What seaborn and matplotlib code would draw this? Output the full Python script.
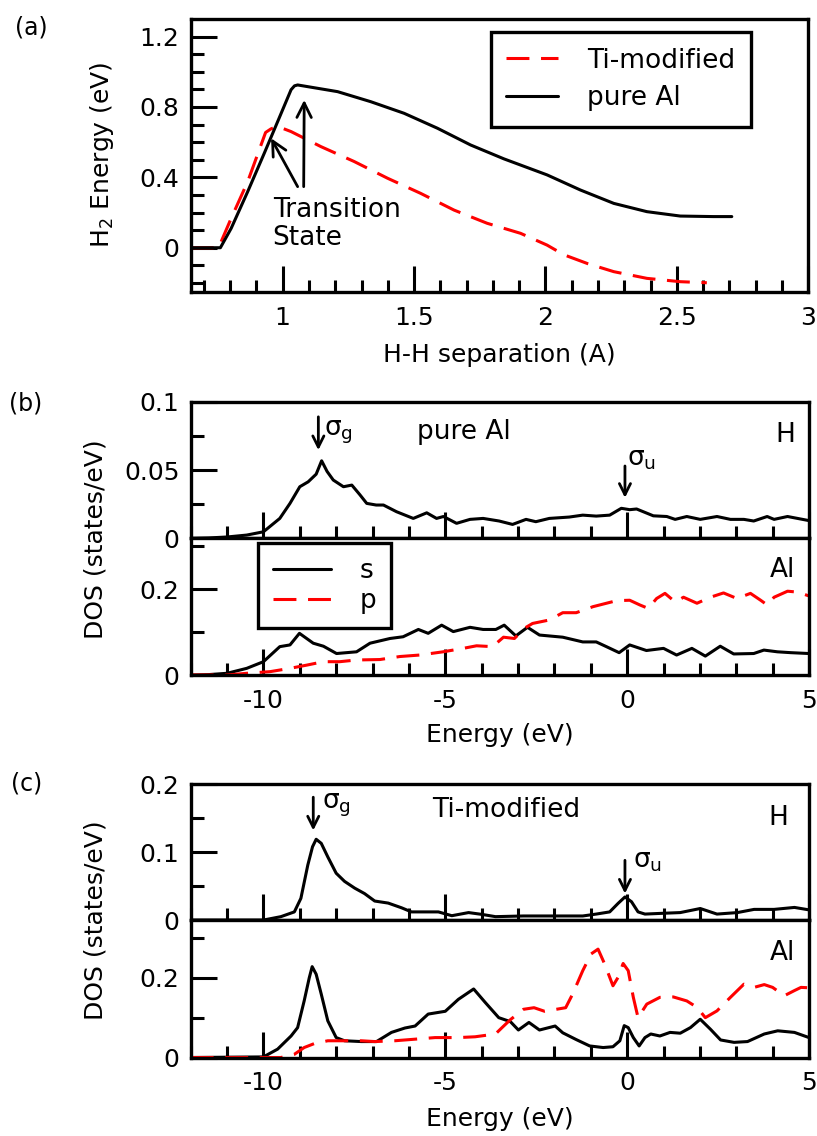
import matplotlib
matplotlib.use("Agg")
import seaborn as sns
import matplotlib.pyplot as plt
from matplotlib.ticker import MultipleLocator, FixedLocator, FuncFormatter

# (a) H2 energy vs H-H separation
sep_ti = [0.65, 0.756, 0.804, 0.867, 0.935, 0.955, 0.98, 1.032, 1.145, 1.272, 1.399, 1.525,
          1.652, 1.778, 1.905, 2.006, 2.07, 2.16, 2.26, 2.386, 2.513, 2.614]
e_ti = [0, 0, 0.167, 0.376, 0.655, 0.675, 0.69, 0.66, 0.575, 0.49, 0.395, 0.309,
        0.214, 0.139, 0.082, 0.015, -0.04, -0.09, -0.136, -0.174, -0.193, -0.199]
sep_al = [0.65, 0.763, 0.804, 0.867, 0.93, 0.981, 1.032, 1.045, 1.057, 1.209, 1.335, 1.462,
          1.589, 1.715, 1.842, 2.006, 2.133, 2.26, 2.386, 2.513, 2.639, 2.709]
e_al = [0, 0, 0.11, 0.319, 0.537, 0.717, 0.898, 0.92, 0.925, 0.887, 0.83, 0.764,
        0.679, 0.584, 0.505, 0.414, 0.328, 0.252, 0.205, 0.18, 0.177, 0.177]

# (b) pure Al DOS
eb_h = [-12, -11.5, -11, -10.46, -10, -9.55, -9.27, -9.0, -8.77, -8.55, -8.4, -8.25, -8.08, -7.8,
        -7.57, -7.35, -7.16, -6.9, -6.7, -6.34, -5.88, -5.51, -5.24, -5.05, -4.69, -4.32, -3.96,
        -3.52, -3.15, -2.78, -2.51, -2.14, -1.59, -1.22, -0.85, -0.48, -0.16, 0.07, 0.26, 0.72,
        1.09, 1.32, 1.64, 2.01, 2.47, 2.84, 3.21, 3.48, 3.85, 4.04, 4.41, 5.0]
dos_b_h = [0, 0.0003, 0.001, 0.0024, 0.0048, 0.0146, 0.0256, 0.0378, 0.0414, 0.047, 0.0568, 0.049,
           0.0427, 0.0378, 0.039, 0.032, 0.0256, 0.0244, 0.0244, 0.0195, 0.0146, 0.0187, 0.0146,
           0.016, 0.011, 0.0139, 0.0146, 0.0127, 0.0102, 0.0139, 0.0122, 0.0146, 0.0156, 0.017,
           0.0163, 0.017, 0.022, 0.021, 0.0215, 0.0165, 0.016, 0.0139, 0.016, 0.0139, 0.016,
           0.0139, 0.0139, 0.0127, 0.016, 0.0139, 0.016, 0.013]
eb_s = [-12, -11.5, -11, -10.46, -10.0, -9.55, -9.27, -9.01, -8.63, -8.35, -7.99, -7.44, -7.07,
        -6.52, -6.16, -5.74, -5.47, -5.10, -4.78, -4.32, -3.96, -3.61, -3.38, -3.06, -2.74, -2.41,
        -1.77, -1.22, -0.85, -0.57, -0.22, 0.07, 0.53, 1.0, 1.36, 1.78, 2.15, 2.56, 2.93, 3.48,
        3.76, 4.13, 4.5, 5.0]
dos_b_s = [0, 0.001, 0.004, 0.0155, 0.031, 0.066, 0.070, 0.097, 0.074, 0.067, 0.050, 0.054, 0.074,
           0.085, 0.089, 0.106, 0.097, 0.116, 0.101, 0.111, 0.106, 0.106, 0.116, 0.091, 0.111,
           0.093, 0.088, 0.077, 0.077, 0.066, 0.052, 0.070, 0.057, 0.062, 0.0465, 0.062, 0.044,
           0.067, 0.049, 0.050, 0.058, 0.054, 0.052, 0.050]
eb_p = [-12, -11, -10.46, -9.82, -9.27, -8.81, -8.35, -7.9, -7.44, -6.8, -6.25, -5.70, -5.06,
        -4.51, -4.14, -3.7, -3.4, -3.1, -2.8, -2.6, -2.14, -1.77, -1.4, -0.94, -0.29, 0.07, 0.35,
        0.58, 0.81, 1.04, 1.32, 1.55, 1.92, 2.29, 2.65, 3.02, 3.39, 3.67, 3.85, 4.04, 4.41, 4.68, 5.0]
dos_b_p = [0, 0, 0.004, 0.0078, 0.0155, 0.023, 0.031, 0.031, 0.035, 0.036, 0.043, 0.0465, 0.054,
           0.062, 0.068, 0.066, 0.088, 0.085, 0.11, 0.12, 0.128, 0.145, 0.145, 0.159, 0.173, 0.174,
           0.163, 0.155, 0.178, 0.19, 0.17, 0.181, 0.167, 0.181, 0.191, 0.178, 0.19, 0.174, 0.163,
           0.181, 0.195, 0.193, 0.184]

# (c) Ti-modified DOS
ec_h = [-12, -10, -9.52, -9.15, -8.97, -8.78, -8.65, -8.55, -8.41, -8.23, -8.0, -7.77, -7.49,
        -7.22, -6.94, -6.57, -6.2, -5.93, -5.47, -5.19, -4.82, -4.36, -3.99, -3.62, -2.85, -1.98,
        -1.22, -0.85, -0.48, -0.25, -0.06, 0.12, 0.30, 0.49, 1.0, 1.46, 2.01, 2.47, 3.03, 3.49,
        4.04, 4.6, 5.0]
dos_c_h = [0, 0, 0.005, 0.012, 0.032, 0.081, 0.108, 0.119, 0.113, 0.093, 0.069, 0.057, 0.047,
           0.039, 0.028, 0.025, 0.018, 0.012, 0.012, 0.012, 0.0064, 0.011, 0.0083, 0.005, 0.006,
           0.006, 0.006, 0.0088, 0.012, 0.0245, 0.034, 0.027, 0.012, 0.0088, 0.010, 0.011, 0.017,
           0.0088, 0.011, 0.0157, 0.0157, 0.0186, 0.015]
ec_s = [-12, -10, -9.61, -9.24, -9.06, -8.88, -8.74, -8.66, -8.55, -8.41, -8.23, -8.0, -7.77,
        -7.31, -6.89, -6.48, -6.11, -5.83, -5.47, -5.0, -4.64, -4.22, -3.9, -3.53, -3.21, -2.99,
        -2.7, -2.41, -1.98, -1.77, -1.40, -1.03, -0.66, -0.39, -0.2, -0.08, 0.03, 0.17, 0.33,
        0.49, 0.65, 0.9, 1.18, 1.46, 1.74, 2.01, 2.29, 2.57, 2.94, 3.31, 3.77, 4.14, 4.6, 5.0]
dos_c_s = [0, 0.0015, 0.021, 0.054, 0.075, 0.142, 0.2, 0.228, 0.209, 0.159, 0.092, 0.05, 0.042,
           0.040, 0.040, 0.063, 0.074, 0.079, 0.109, 0.116, 0.146, 0.172, 0.138, 0.10, 0.09,
           0.069, 0.088, 0.069, 0.079, 0.062, 0.045, 0.029, 0.025, 0.027, 0.042, 0.080, 0.075,
           0.05, 0.029, 0.05, 0.059, 0.054, 0.063, 0.061, 0.075, 0.096, 0.071, 0.044, 0.038,
           0.040, 0.059, 0.067, 0.063, 0.05]
ec_p = [-12, -9.52, -9.15, -8.88, -8.6, -8.23, -7.77, -7.31, -6.94, -6.39, -5.83, -5.28, -4.64,
        -4.18, -3.62, -3.44, -3.21, -2.85, -2.56, -2.27, -1.69, -1.5, -1.22, -0.99, -0.8, -0.62,
        -0.39, -0.25, -0.11, 0.03, 0.17, 0.30, 0.54, 0.9, 1.27, 1.64, 1.92, 2.15, 2.47, 2.84,
        3.21, 3.49, 3.77, 4.0, 4.32, 4.6, 4.78, 5.0]
dos_c_p = [0, 0, 0.008, 0.025, 0.035, 0.042, 0.042, 0.042, 0.040, 0.042, 0.046, 0.05, 0.05,
           0.052, 0.059, 0.075, 0.095, 0.121, 0.125, 0.116, 0.125, 0.159, 0.218, 0.26, 0.272,
           0.235, 0.18, 0.201, 0.236, 0.218, 0.151, 0.10, 0.134, 0.151, 0.152, 0.142, 0.126, 0.10,
           0.117, 0.151, 0.184, 0.176, 0.183, 0.176, 0.155, 0.168, 0.176, 0.175]

# general style
sns.set_style("ticks")
plt.rcParams["font.family"] = ["DejaVu Sans"]
plt.rcParams["axes.unicode_minus"] = False
plt.rcParams["text.color"] = "black"
plt.rcParams["axes.labelcolor"] = "black"
plt.rcParams["axes.edgecolor"] = "black"

LW = 2.2
RED = "#ff0000"
DASH = (0, (7.5, 3.8))
TXT = 19
TICK = 18
LAB = 18
fmt = FuncFormatter(lambda v, p: f"{v:g}")


def style_axis(ax, xlim, ylim, xmaj, xmin, ymaj, ymin, xlabels=True):
    ax.set_xlim(*xlim)
    ax.set_ylim(*ylim)
    ax.xaxis.set_major_locator(MultipleLocator(xmaj))
    ax.xaxis.set_minor_locator(MultipleLocator(xmin))
    ax.yaxis.set_major_locator(FixedLocator(ymaj))
    ax.yaxis.set_minor_locator(FixedLocator(ymin))
    ax.xaxis.set_major_formatter(fmt)
    ax.yaxis.set_major_formatter(fmt)
    ax.tick_params(which="both", direction="in", top=False, right=False,
                   width=2.2, labelsize=TICK, colors="black")
    ax.tick_params(axis="x", pad=10)
    ax.tick_params(axis="y", pad=8)
    ax.tick_params(which="major", length=19)
    ax.tick_params(which="minor", length=9)
    if not xlabels:
        ax.tick_params(labelbottom=False)
    ax.set_xlabel("")
    ax.set_ylabel("")
    for sp in ax.spines.values():
        sp.set_visible(True)
        sp.set_linewidth(2.4)


def arrow(ax, x, y0, y1, ms=20):
    ax.annotate("", xy=(x, y1), xytext=(x, y0),
                arrowprops=dict(arrowstyle="->", lw=2, color="black",
                                mutation_scale=ms, shrinkA=0, shrinkB=0))


fig = plt.figure(figsize=(8.17, 11.36), dpi=100)

# ---- (a)
ax_a = fig.add_axes([0.2334, 0.7432, 0.7559, 0.2401])
sns.lineplot(x=sep_ti, y=e_ti, ax=ax_a, color=RED, lw=LW, linestyle=DASH, sort=False)
sns.lineplot(x=sep_al, y=e_al, ax=ax_a, color="black", lw=LW, sort=False)
style_axis(ax_a, (0.65, 3.0), (-0.25, 1.30), 0.5, 0.1,
           [0, 0.4, 0.8, 1.2], [-0.2, -0.1, 0.1, 0.2, 0.3, 0.5, 0.6, 0.7, 0.9, 1.0, 1.1])
lines_a = ax_a.get_lines()
leg = ax_a.legend(handles=[lines_a[0], lines_a[1]], labels=["Ti-modified", "pure Al"],
                  loc="upper left", bbox_to_anchor=(0.4856, 0.953), fontsize=TXT,
                  frameon=True, fancybox=False, edgecolor="black", framealpha=1,
                  handlelength=1.95, handletextpad=1.1, borderpad=0.6,
                  labelspacing=0.45, borderaxespad=0)
leg.get_frame().set_linewidth(2.4)
for tail, tip in [((1.057, 0.347), (0.956, 0.622)), ((1.08, 0.347), (1.082, 0.84))]:
    ax_a.annotate("", xy=tip, xytext=tail,
                  arrowprops=dict(arrowstyle="->", lw=2, color="black",
                                  mutation_scale=26, shrinkA=0, shrinkB=0))
ax_a.text(0.962, 0.176, "Transition", fontsize=TXT, ha="left", va="baseline")
ax_a.text(0.962, 0.015, "State", fontsize=TXT, ha="left", va="baseline")
fig.text(0.1248, 0.8636, "H$_\\mathregular{2}$ Energy (eV)", fontsize=LAB,
         rotation=90, ha="center", va="center")
fig.text(0.6115, 0.6875, "H-H separation (A)", fontsize=LAB, ha="center", va="center")

# ---- (b)
ax_b1 = fig.add_axes([0.2334, 0.5261, 0.7568, 0.1202])
ax_b2 = fig.add_axes([0.2334, 0.4058, 0.7568, 0.1203])
sns.lineplot(x=eb_h, y=dos_b_h, ax=ax_b1, color="black", lw=LW, sort=False)
sns.lineplot(x=eb_s, y=dos_b_s, ax=ax_b2, color="black", lw=LW, sort=False)
sns.lineplot(x=eb_p, y=dos_b_p, ax=ax_b2, color=RED, lw=LW, linestyle=DASH, sort=False)
style_axis(ax_b1, (-12, 5), (0, 0.1), 5, 1, [0, 0.05, 0.1], [0.025, 0.075], xlabels=False)
style_axis(ax_b2, (-12, 5), (0, 0.318), 5, 1, [0, 0.2], [0.1, 0.3])
lines_b = ax_b2.get_lines()
leg = ax_b2.legend(handles=[lines_b[0], lines_b[1]], labels=["s", "p"],
                   loc="upper left", bbox_to_anchor=(0.109, 0.963), fontsize=TXT,
                   frameon=True, fancybox=False, edgecolor="black", framealpha=1,
                   handlelength=2.2, handletextpad=1.1, borderpad=0.55,
                   labelspacing=0.15, borderaxespad=0)
leg.get_frame().set_linewidth(2.4)
ax_b1.text(-5.79, 0.073, "pure Al", fontsize=TXT, ha="left", va="baseline")
ax_b1.text(0.977, 0.703, "H", fontsize=TXT, ha="right", va="baseline", transform=ax_b1.transAxes)
ax_b2.text(0.977, 0.72, "Al", fontsize=TXT, ha="right", va="baseline", transform=ax_b2.transAxes)
arrow(ax_b1, -8.49, 0.089, 0.0646)
ax_b1.text(-8.34, 0.0756, "σ$_\\mathregular{g}$", fontsize=TXT, ha="left", va="baseline")
arrow(ax_b1, -0.06, 0.053, 0.0297)
ax_b1.text(0.0, 0.053, "σ$_\\mathregular{u}$", fontsize=TXT, ha="left", va="baseline")
fig.text(0.1175, 0.5255, "DOS (states/eV)", fontsize=LAB, rotation=90, ha="center", va="center")
fig.text(0.6115, 0.353, "Energy (eV)", fontsize=LAB, ha="center", va="center")

# ---- (c)
ax_c1 = fig.add_axes([0.2334, 0.1901, 0.7568, 0.1195])
ax_c2 = fig.add_axes([0.2334, 0.0691, 0.7568, 0.1210])
sns.lineplot(x=ec_h, y=dos_c_h, ax=ax_c1, color="black", lw=LW, sort=False)
sns.lineplot(x=ec_s, y=dos_c_s, ax=ax_c2, color="black", lw=LW, sort=False)
sns.lineplot(x=ec_p, y=dos_c_p, ax=ax_c2, color=RED, lw=LW, linestyle=DASH, sort=False)
style_axis(ax_c1, (-12, 5), (0, 0.2), 5, 1, [0, 0.1, 0.2], [0.05, 0.15], xlabels=False)
style_axis(ax_c2, (-12, 5), (0, 0.345), 5, 1, [0, 0.2], [0.1, 0.3])
ax_c1.text(-5.37, 0.152, "Ti-modified", fontsize=TXT, ha="left", va="baseline")
ax_c1.text(0.966, 0.70, "H", fontsize=TXT, ha="right", va="baseline", transform=ax_c1.transAxes)
ax_c2.text(0.977, 0.709, "Al", fontsize=TXT, ha="right", va="baseline", transform=ax_c2.transAxes)
arrow(ax_c1, -8.63, 0.181, 0.132)
ax_c1.text(-8.40, 0.164, "σ$_\\mathregular{g}$", fontsize=TXT, ha="left", va="baseline")
arrow(ax_c1, -0.06, 0.088, 0.039)
ax_c1.text(0.17, 0.078, "σ$_\\mathregular{u}$", fontsize=TXT, ha="left", va="baseline")
fig.text(0.1175, 0.19, "DOS (states/eV)", fontsize=LAB, rotation=90, ha="center", va="center")
fig.text(0.6115, 0.015, "Energy (eV)", fontsize=LAB, ha="center", va="center")

# panel labels
fig.text(0.038, 0.976, "(a)", fontsize=17, ha="center", va="center")
fig.text(0.031, 0.6452, "(b)", fontsize=17, ha="center", va="center")
fig.text(0.033, 0.3107, "(c)", fontsize=17, ha="center", va="center")

fig.savefig("out.png", dpi=100)
